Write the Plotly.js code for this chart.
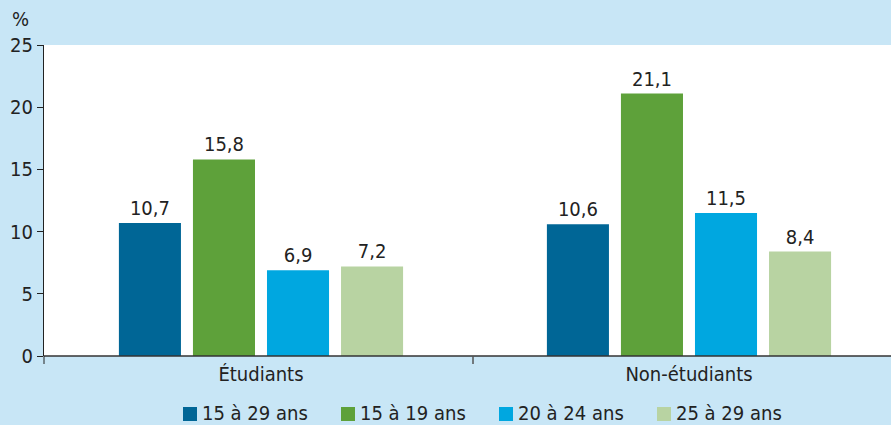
<!DOCTYPE html>
<html>
<head>
<meta charset="utf-8">
<script src="https://cdn.plot.ly/plotly-3.0.1.min.js"></script>
<style>
html,body{margin:0;padding:0;background:#c8e6f6;}
#chart{width:891px;height:425px;}
</style>
</head>
<body>
<div id="chart"></div>
<script>
const categories = ["Étudiants", "Non-étudiants"];
const seriesNames = ["15 à 29 ans", "15 à 19 ans", "20 à 24 ans", "25 à 29 ans"];
const s1529 = [10.7, 10.6];
const s1519 = [15.8, 21.1];
const s2024 = [6.9, 11.5];
const s2529 = [7.2, 8.4];
const colors = ["#006696", "#5ea13a", "#00a7e0", "#b8d3a2"];
const yTicks = [0, 5, 10, 15, 20, 25];

const FONT = '"DejaVu Sans Condensed", "Liberation Sans Narrow", Roboto, sans-serif';
const allSeries = [s1529, s1519, s2024, s2529];
const fmt = v => v.toFixed(1).replace('.', ',');

const W = 891, H = 425;
const M = {l: 44, r: 0, t: 45, b: 69};
const plotW = W - M.l - M.r, plotH = H - M.t - M.b;
const px2x = px => (px - M.l) / plotW;
const py2y = py => (H - M.b - py) / plotH;

const traces = allSeries.map((vals, i) => ({
  type: 'bar',
  name: seriesNames[i],
  x: categories,
  y: vals,
  marker: {color: colors[i]},
  text: vals.map(fmt),
  textposition: 'outside',
  cliponaxis: false,
  textfont: {family: FONT, size: 20, color: '#222'},
  hoverinfo: 'skip',
  showlegend: false
}));

// custom legend (bottom, horizontal)
const legendShapes = [];
const legendAnn = [];
seriesNames.forEach((name, i) => {
  const x0 = 183 + i * 158;
  legendShapes.push({
    type: 'rect', xref: 'paper', yref: 'paper',
    x0: px2x(x0), x1: px2x(x0 + 14), y0: py2y(421), y1: py2y(407),
    fillcolor: colors[i], line: {width: 0}
  });
  legendAnn.push({
    text: name, xref: 'paper', yref: 'paper',
    x: px2x(x0 + 17), y: py2y(413), xanchor: 'left', yanchor: 'middle',
    showarrow: false, font: {family: FONT, size: 20, color: '#222'}
  });
});

const layout = {
  width: W,
  height: H,
  paper_bgcolor: '#c8e6f6',
  plot_bgcolor: '#ffffff',
  margin: {l: M.l, r: M.r, t: M.t, b: M.b, pad: 0, autoexpand: false},
  barmode: 'group',
  bargap: 0.308,
  bargroupgap: 0.162,
  showlegend: false,
  font: {family: FONT, size: 20, color: '#222'},
  xaxis: {
    type: 'category',
    range: [-0.507, 1.472],
    showgrid: false,
    zeroline: false,
    showline: false,
    ticks: '',
    ticklabelstandoff: 4,
    tickfont: {family: FONT, size: 20, color: '#222'},
    fixedrange: true
  },
  yaxis: {
    range: [0, 25],
    tickvals: yTicks,
    ticktext: yTicks.map(String),
    showgrid: false,
    zeroline: false,
    showline: true,
    linecolor: '#222',
    linewidth: 1,
    ticks: 'outside',
    ticklen: 6,
    tickcolor: '#222',
    tickfont: {family: FONT, size: 20, color: '#222'},
    fixedrange: true
  },
  shapes: [
    {type: 'line', xref: 'paper', yref: 'paper', x0: 0, x1: 1, y0: 0, y1: 0,
     line: {color: '#333', width: 1.5}},
    {type: 'line', xref: 'paper', yref: 'paper', x0: 0, x1: 0, y0: 0, y1: py2y(364),
     line: {color: '#222', width: 1}},
    {type: 'line', xref: 'paper', yref: 'paper', x0: px2x(473), x1: px2x(473), y0: 0, y1: py2y(364),
     line: {color: '#555', width: 1.5}}
  ].concat(legendShapes),
  annotations: [
    {text: '%', xref: 'paper', yref: 'paper', x: px2x(20), y: py2y(19), xanchor: 'center', yanchor: 'middle',
     showarrow: false, font: {family: FONT, size: 20, color: '#222'}}
  ].concat(legendAnn)
};

Plotly.newPlot('chart', traces, layout, {displayModeBar: false, staticPlot: true});
</script>
</body>
</html>
